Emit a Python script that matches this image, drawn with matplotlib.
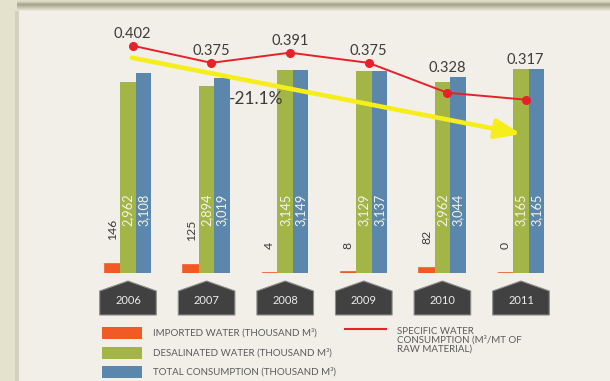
import numpy as np
import matplotlib
matplotlib.use('Agg')
import matplotlib.pyplot as plt
import matplotlib.transforms as mtransforms
from matplotlib.patches import Rectangle, Polygon

plt.rcParams['font.family'] = ['Lato', 'DejaVu Sans']

#--- data

years = ['2006', '2007', '2008', '2009', '2010', '2011']
imported = [146, 125, 4, 8, 82, 0]
desalinated = [2962, 2894, 3145, 3129, 2962, 3165]
total = [3108, 3019, 3149, 3137, 3044, 3165]
specific = [0.402, 0.375, 0.391, 0.375, 0.328, 0.317]

legend_labels = [
    'IMPORTED WATER (THOUSAND M³)',
    'DESALINATED WATER (THOUSAND M³)',
    'TOTAL CONSUMPTION (THOUSAND M³)',
]
line_label = 'SPECIFIC WATER\nCONSUMPTION (M³/MT OF\nRAW MATERIAL)'

#--- style

ORANGE = '#f15a24'
GREEN = '#a4b547'
BLUE = '#5b87ad'
RED = '#e8202a'
YELLOW = '#f6ee1a'
DARK = '#3c3c3c'
LEGEND_TXT = '#5a5a5a'
PAGE = '#f1efe7'

W, H = 610, 381
fig = plt.figure(figsize=(W / 100, H / 100), dpi=100)
fig.patch.set_facecolor('#e4e2cc')

# pixel frame for page furniture and the legend
fr = fig.add_axes([0, 0, 1, 1], zorder=0)
fr.set_xlim(0, W)
fr.set_ylim(H, 0)
fr.axis('off')

band = ['#e0dec8', '#d8d6c0', '#c8c6b0', '#b3b19b', '#a9a791', '#afad97',
        '#bbb9a3', '#c7c5af', '#d3d1bb', '#dedcc8', '#e9e7dc']
for k, c in enumerate(band):
    fr.add_patch(Rectangle((17, k), W - 17, 1, fc=c, lw=0))
fr.add_patch(Rectangle((15, 11), 4, H - 11, fc='#d3d1bb', lw=0))
fr.add_patch(Rectangle((19, 11), W - 19, H - 11, fc=PAGE, lw=0))

#--- bars

x0, step = 128, 78.6      # first group centre and group spacing, px
base, ppu = 273, 0.0645   # baseline px, px per thousand m3
ax = fig.add_axes([20 / W, 1 - base / H, (W - 20) / W, (base - 20) / H], zorder=2)
ax.set_xlim((20 - x0) / step, (W - x0) / step)
ax.set_ylim(0, (base - 20) / ppu)
ax.axis('off')

x = np.arange(len(years))
w = 0.197
ax.bar(x - w, imported, w, color=ORANGE, edgecolor=ORANGE, linewidth=1.2)
ax.bar(x, desalinated, w, color=GREEN, linewidth=0)
ax.bar(x + w, total, w, color=BLUE, linewidth=0)

for i in x:
    ax.text(i, 730, f'{desalinated[i]:,}', rotation=90, ha='center', va='bottom',
            color='#f4f4e8', fontsize=9.2)
    ax.text(i + w, 730, f'{total[i]:,}', rotation=90, ha='center', va='bottom',
            color='#f4f4e8', fontsize=9.2)
    ax.annotate(str(imported[i]), (i - w, imported[i]), xytext=(0, 17),
                textcoords='offset points', rotation=90, ha='center', va='bottom',
                color=DARK, fontsize=8.8)

# house shaped year tags under each group
trans = mtransforms.blended_transform_factory(ax.transData, fr.transData)
hw = 0.36
for i, yr in enumerate(years):
    pts = [(i - hw, 315), (i - hw, 291), (i, 281), (i + hw, 291), (i + hw, 315)]
    ax.add_patch(Polygon(pts, closed=True, transform=trans, fc='#414141',
                         ec='#8c8c8c', lw=0.8, clip_on=False))
    ax.text(i, 300, yr, transform=trans, ha='center', va='center',
            color='#ececec', fontsize=8)

#--- specific consumption line

ax2 = ax.twinx()
ax2.set_ylim(0.044, 0.4425)
ax2.axis('off')

lx = x + 0.06
ax2.plot(lx, specific, color=RED, lw=1.4, marker='o', ms=5.5, zorder=4)

ident = mtransforms.IdentityTransform()
for i, v in enumerate(specific):
    px, py = ax2.transData.transform((lx[i], v))
    _, ty = ax.transData.transform((i + w, total[i]))
    ly = max(py + 8, ty + 5)
    fig.text(px, ly, f'{v:.3f}', transform=ident, ha='center', va='baseline',
             fontsize=10.5, color=DARK, zorder=5)

change = (specific[-1] - specific[0]) / specific[0] * 100
ax2.annotate('', xy=(5.0, 0.263), xytext=(0.05, 0.383),
             arrowprops=dict(arrowstyle='-|>,head_length=0.95,head_width=0.37',
                             color=YELLOW, lw=3.3, shrinkA=0, shrinkB=0,
                             mutation_scale=16), zorder=3)
ax2.text(1.285, 0.318, f'{change:.1f}%', ha='left', va='center',
         fontsize=12.5, color=DARK)

#--- legend

for k, (lab, col) in enumerate(zip(legend_labels, [ORANGE, GREEN, BLUE])):
    y = 327 + k * 19.5
    fr.add_patch(Rectangle((102, y), 40, 12, fc=col, lw=0))
    fr.text(153, y + 6, lab, va='center', fontsize=7.0, color=LEGEND_TXT)
fr.plot([345, 386], [328.5, 328.5], color=RED, lw=1.5)
fr.text(397, 327, line_label, va='top', fontsize=7.0, linespacing=0.92,
        color=LEGEND_TXT)

fig.savefig('out.png', dpi=100, facecolor=fig.get_facecolor())
